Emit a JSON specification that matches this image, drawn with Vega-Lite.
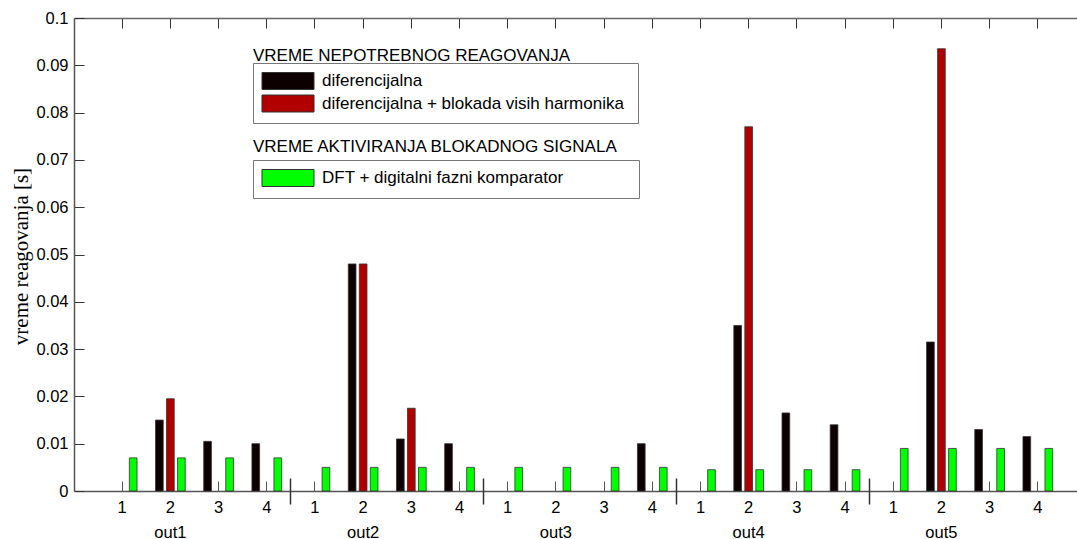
{
  "$schema": "https://vega.github.io/schema/vega-lite/v6.json",
  "width": 1003,
  "height": 473,
  "autosize": {"type": "none"},
  "padding": {"left": 74, "top": 18, "right": 0, "bottom": 48},
  "background": "white",
  "config": {
    "view": {"stroke": null},
    "font": "Liberation Sans",
    "axis": {"labelFont": "Liberation Sans", "labelFontSize": 16.5, "labelColor": "black", "grid": false}
  },
  "title": {
    "text": "VREME NEPOTREBNOG REAGOVANJA",
    "subtitle": "VREME AKTIVIRANJA BLOKADNOG SIGNALA",
    "anchor": "start",
    "frame": "group",
    "dx": 179,
    "dy": 146,
    "offset": 0,
    "font": "Liberation Sans",
    "fontSize": 17,
    "fontWeight": "normal",
    "color": "black",
    "subtitleFont": "Liberation Sans",
    "subtitleFontSize": 17,
    "subtitleColor": "black",
    "subtitlePadding": 74
  },
  "datasets": {
    "d": [
      {"pos": "out1-1", "series": "DFT + digitalni fazni komparator", "value": 0.007},
      {"pos": "out1-2", "series": "diferencijalna", "value": 0.015},
      {"pos": "out1-2", "series": "diferencijalna + blokada visih harmonika", "value": 0.0195},
      {"pos": "out1-2", "series": "DFT + digitalni fazni komparator", "value": 0.007},
      {"pos": "out1-3", "series": "diferencijalna", "value": 0.0105},
      {"pos": "out1-3", "series": "DFT + digitalni fazni komparator", "value": 0.007},
      {"pos": "out1-4", "series": "diferencijalna", "value": 0.01},
      {"pos": "out1-4", "series": "DFT + digitalni fazni komparator", "value": 0.007},
      {"pos": "out2-1", "series": "DFT + digitalni fazni komparator", "value": 0.005},
      {"pos": "out2-2", "series": "diferencijalna", "value": 0.048},
      {"pos": "out2-2", "series": "diferencijalna + blokada visih harmonika", "value": 0.048},
      {"pos": "out2-2", "series": "DFT + digitalni fazni komparator", "value": 0.005},
      {"pos": "out2-3", "series": "diferencijalna", "value": 0.011},
      {"pos": "out2-3", "series": "diferencijalna + blokada visih harmonika", "value": 0.0175},
      {"pos": "out2-3", "series": "DFT + digitalni fazni komparator", "value": 0.005},
      {"pos": "out2-4", "series": "diferencijalna", "value": 0.01},
      {"pos": "out2-4", "series": "DFT + digitalni fazni komparator", "value": 0.005},
      {"pos": "out3-1", "series": "DFT + digitalni fazni komparator", "value": 0.005},
      {"pos": "out3-2", "series": "DFT + digitalni fazni komparator", "value": 0.005},
      {"pos": "out3-3", "series": "DFT + digitalni fazni komparator", "value": 0.005},
      {"pos": "out3-4", "series": "diferencijalna", "value": 0.01},
      {"pos": "out3-4", "series": "DFT + digitalni fazni komparator", "value": 0.005},
      {"pos": "out4-1", "series": "DFT + digitalni fazni komparator", "value": 0.0045},
      {"pos": "out4-2", "series": "diferencijalna", "value": 0.035},
      {"pos": "out4-2", "series": "diferencijalna + blokada visih harmonika", "value": 0.077},
      {"pos": "out4-2", "series": "DFT + digitalni fazni komparator", "value": 0.0045},
      {"pos": "out4-3", "series": "diferencijalna", "value": 0.0165},
      {"pos": "out4-3", "series": "DFT + digitalni fazni komparator", "value": 0.0045},
      {"pos": "out4-4", "series": "diferencijalna", "value": 0.014},
      {"pos": "out4-4", "series": "DFT + digitalni fazni komparator", "value": 0.0045},
      {"pos": "out5-1", "series": "DFT + digitalni fazni komparator", "value": 0.009},
      {"pos": "out5-2", "series": "diferencijalna", "value": 0.0315},
      {"pos": "out5-2", "series": "diferencijalna + blokada visih harmonika", "value": 0.0935},
      {"pos": "out5-2", "series": "DFT + digitalni fazni komparator", "value": 0.009},
      {"pos": "out5-3", "series": "diferencijalna", "value": 0.013},
      {"pos": "out5-3", "series": "DFT + digitalni fazni komparator", "value": 0.009},
      {"pos": "out5-4", "series": "diferencijalna", "value": 0.0115},
      {"pos": "out5-4", "series": "DFT + digitalni fazni komparator", "value": 0.009}
    ]
  },
  "data": {"name": "d"},
  "layer": [
    {
      "transform": [{"filter": "datum.series !== 'DFT + digitalni fazni komparator'"}],
      "mark": {"type": "bar", "stroke": "#333333", "strokeWidth": 0.8},
      "encoding": {
        "x": {
          "field": "pos", "type": "nominal",
          "scale": {
            "domain": ["out1-1","out1-2","out1-3","out1-4","out2-1","out2-2","out2-3","out2-4","out3-1","out3-2","out3-3","out3-4","out4-1","out4-2","out4-3","out4-4","out5-1","out5-2","out5-3","out5-4"],
            "paddingInner": 0, "paddingOuter": 0.5, "range": [0, 1012]
          },
          "axis": {
            "orient": "bottom", "title": null, "labelAngle": 0,
            "labelExpr": "split(datum.label, '-')[1]",
            "tickSize": -10, "tickColor": "#555555", "tickWidth": 1,
            "domainColor": "#555555", "domainWidth": 1.5,
            "labelPadding": 18
          }
        },
        "xOffset": {
          "field": "series", "type": "nominal",
          "scale": {
            "domain": ["diferencijalna", "diferencijalna + blokada visih harmonika", "DFT + digitalni fazni komparator"],
            "paddingInner": 0.3, "paddingOuter": 0.84
          }
        },
        "y": {
          "field": "value", "type": "quantitative",
          "scale": {"domain": [0, 0.1], "nice": false},
          "axis": {
            "title": "vreme reagovanja [s]",
            "titleFont": "Liberation Serif", "titleFontSize": 21, "titleFontWeight": "normal", "titleColor": "black",
            "titleX": -53, "titleY": 238, "titleAlign": "center", "titleBaseline": "middle", "titleAngle": -90,
            "values": [0, 0.01, 0.02, 0.03, 0.04, 0.05, 0.06, 0.07, 0.08, 0.09, 0.1],
            "format": "~g",
            "tickSize": -10, "tickColor": "#333333", "domainColor": "#555555", "domainWidth": 1.5,
            "labelPadding": 16
          }
        },
        "color": {
          "field": "series", "type": "nominal",
          "scale": {"domain": ["diferencijalna", "diferencijalna + blokada visih harmonika"], "range": ["#0c0000", "#b00000"]},
          "legend": {
            "title": null, "orient": "none", "legendX": 179, "legendY": 45,
            "padding": 9, "strokeColor": "#777777",
            "symbolType": "M-3.06,-1L3.06,-1L3.06,1L-3.06,1Z", "symbolSize": 289, "symbolOffset": 17,
            "symbolStrokeColor": "#333333", "symbolStrokeWidth": 1,
            "labelFont": "Liberation Sans", "labelFontSize": 17, "labelColor": "black", "labelOffset": 25, "labelLimit": 500,
            "labelExpr": "datum.label + '\u00a0\u200b'",
            "rowPadding": 0.5
          }
        }
      }
    },
    {
      "transform": [{"filter": "datum.series === 'DFT + digitalni fazni komparator'"}],
      "mark": {"type": "bar", "stroke": "#333333", "strokeWidth": 0.8},
      "encoding": {
        "x": {
          "field": "pos", "type": "nominal",
          "axis": {
            "orient": "top", "title": null, "labels": false,
            "tickSize": -10, "tickColor": "#333333", "tickWidth": 1,
            "domainColor": "#666666", "domainWidth": 1.5
          }
        },
        "xOffset": {"field": "series", "type": "nominal"},
        "y": {"field": "value", "type": "quantitative"},
        "color": {
          "field": "series", "type": "nominal",
          "scale": {"domain": ["DFT + digitalni fazni komparator"], "range": ["#00ff00"]},
          "legend": {
            "title": null, "orient": "none", "legendX": 179, "legendY": 142,
            "padding": 9, "strokeColor": "#777777",
            "symbolType": "M-3.06,-1L3.06,-1L3.06,1L-3.06,1Z", "symbolSize": 289, "symbolOffset": 17,
            "symbolStrokeColor": "#333333", "symbolStrokeWidth": 1,
            "labelFont": "Liberation Sans", "labelFontSize": 17, "labelColor": "black", "labelOffset": 25, "labelLimit": 500,
            "labelExpr": "datum.label + '\u00a0\u00a0\u00a0\u00a0\u00a0\u00a0\u00a0\u00a0\u00a0\u00a0\u00a0\u00a0\u00a0\u00a0\u200b'"
          }
        }
      }
    },
    {
      "mark": {"type": "bar", "opacity": 0},
      "encoding": {
        "x": {
          "field": "pos", "type": "nominal",
          "axis": {
            "orient": "bottom", "title": null, "labels": false, "domain": false,
            "values": ["out1-4", "out2-4", "out3-4", "out4-4"], "bandPosition": 1,
            "offset": -13, "tickSize": 26, "tickColor": "#333333", "tickWidth": 1.5
          }
        }
      }
    },
    {
      "mark": {"type": "bar", "opacity": 0},
      "encoding": {
        "x": {
          "field": "pos", "type": "nominal",
          "axis": {
            "orient": "bottom", "title": null, "labelAngle": 0, "domain": false, "ticks": false,
            "values": ["out1-2", "out2-2", "out3-2", "out4-2", "out5-2"], "bandPosition": 1,
            "labelExpr": "split(datum.label, '-')[0]",
            "labelPadding": 33
          }
        }
      }
    }
  ],
  "resolve": {"scale": {"color": "independent"}, "axis": {"x": "independent"}, "legend": {"color": "independent"}}
}
